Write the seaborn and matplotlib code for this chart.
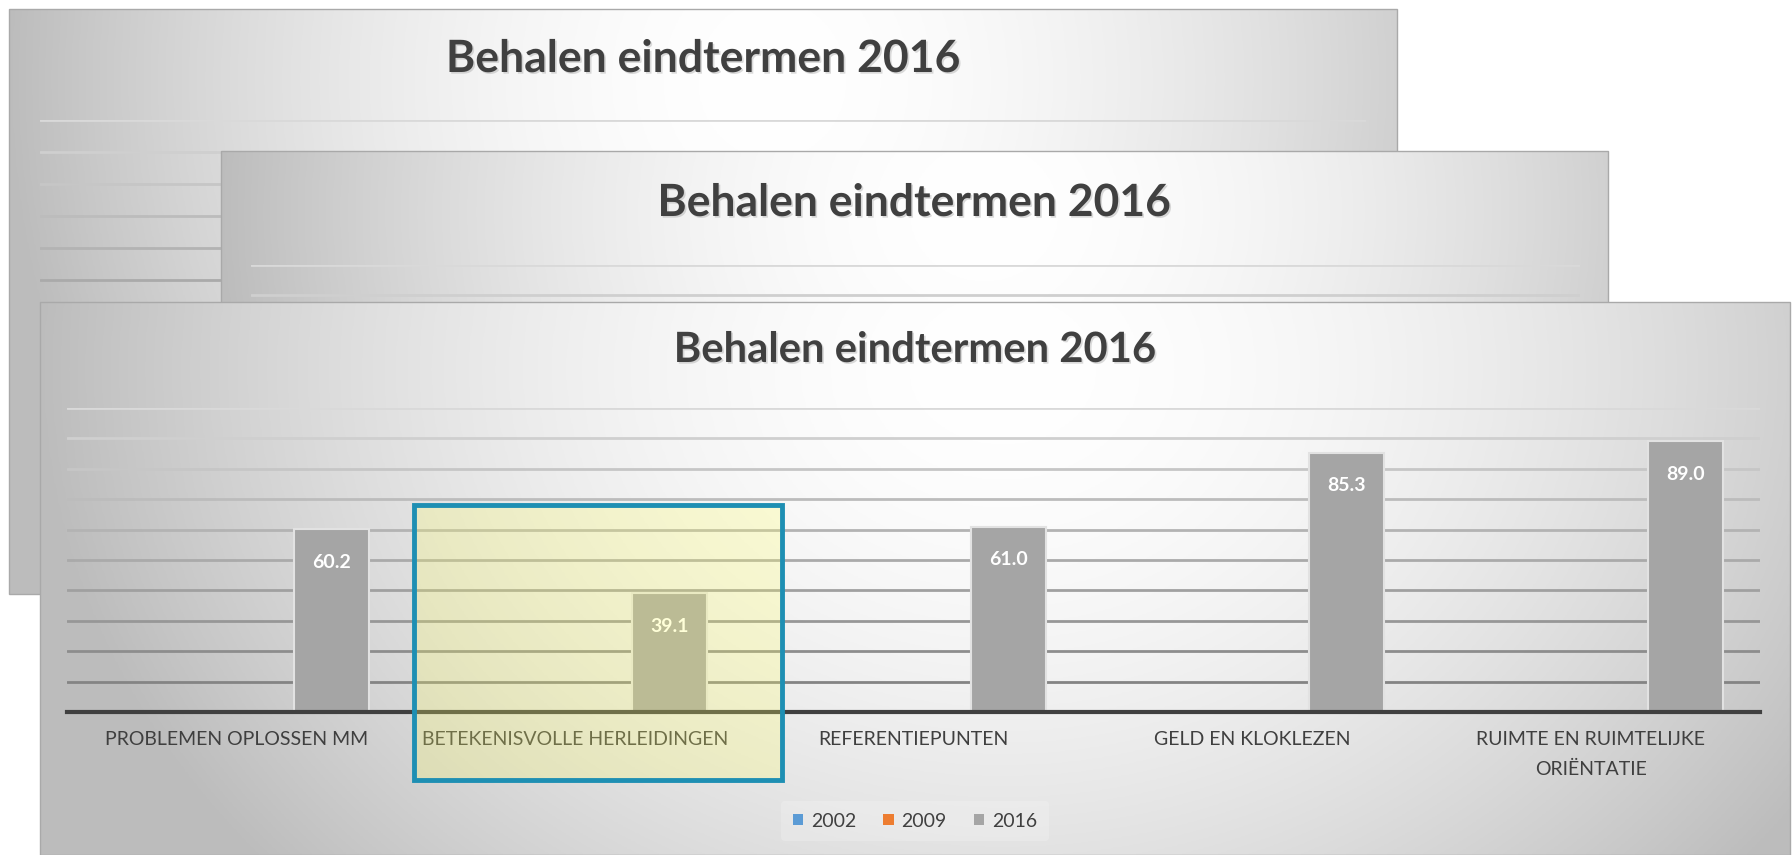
import numpy as np
import pandas as pd
import matplotlib
matplotlib.use("Agg")
import matplotlib.pyplot as plt
import matplotlib.patheffects as pe
from matplotlib.patches import Rectangle, Patch
import seaborn as sns

# === gegevens ===
CATEGORIEEN = ["PROBLEMEN OPLOSSEN MM", "BETEKENISVOLLE HERLEIDINGEN", "REFERENTIEPUNTEN",
               "GELD EN KLOKLEZEN", "RUIMTE EN RUIMTELIJKE\nORIËNTATIE"]
JAREN = ["2002", "2009", "2016"]
WAARDEN_2002 = [np.nan, np.nan, np.nan, np.nan, np.nan]
WAARDEN_2009 = [np.nan, np.nan, np.nan, np.nan, np.nan]
WAARDEN_2016 = [60.2, 39.1, 61.0, 85.3, 89.0]
KLEUREN = ["#5B9BD5", "#ED7D31", "#A5A5A5"]
TITEL = "Behalen eindtermen 2016"
Y_TICKS = [0, 10, 20, 30, 40, 50, 60, 70, 80, 90, 100]

df = pd.DataFrame({
    "categorie": CATEGORIEEN * 3,
    "jaar": [j for j in JAREN for _ in CATEGORIEEN],
    "waarde": WAARDEN_2002 + WAARDEN_2009 + WAARDEN_2016,
})

sns.set_theme(style="white")
plt.rcParams["font.family"] = ["Lato", "DejaVu Sans"]

W, H = 1792, 855
fig = plt.figure(figsize=(W / 100, H / 100), dpi=100)
fig.patch.set_facecolor("white")


def box(x0, y0, x1, y1):
    # pixel box (top-left origin) -> figure fraction rect
    return [x0 / W, 1 - y1 / H, (x1 - x0) / W, (y1 - y0) / H]


def gradient(nx=400, ny=200, cx=0.55, cy=0.12):
    u = np.linspace(0, 1, nx)[None, :]
    v = np.linspace(0, 1, ny)[:, None]
    t = np.sqrt(((u - cx) / 0.55) ** 2 + ((v - cy) / 1.4) ** 2)
    val = 1 - 0.26 * np.clip(t, 0, 1) ** 1.8
    return np.dstack([val, val, val])


def draw_grid(ax):
    ax.set_facecolor("none")
    ax.set_ylim(0, 100)
    ax.set_yticks(Y_TICKS)
    ax.yaxis.grid(True, linewidth=2)
    ax.xaxis.grid(False)
    ax.set_axisbelow(True)
    ax.tick_params(left=False, labelleft=False, bottom=False, labelbottom=False)
    for sp in ax.spines.values():
        sp.set_visible(False)
    for val, gl in zip(Y_TICKS, ax.get_ygridlines()):
        gl.set_color(str(round(0.85 - 0.37 * (1 - val / 100), 3)))


# paneel: achtergrond, plotgebied, titel-y, titelbreedte (pixels)
PANELEN = [
    dict(bg=(9, 9, 1397, 594), plot=(40, 120, 1366, 440), ty=59, tw=514),
    dict(bg=(221, 151, 1608, 660), plot=(251, 265, 1580, 565), ty=203, tw=513),
    dict(bg=(40, 302, 1790, 855), plot=(67, 408, 1760, 712), ty=350, tw=482),
]

renderer = fig.canvas.get_renderer()
axes = []
for i, p in enumerate(PANELEN):
    bg = fig.add_axes(box(*p["bg"]), zorder=2 * i + 1)
    bg.imshow(gradient(), extent=[0, 1, 0, 1], aspect="auto", origin="upper")
    bg.set_xlim(0, 1)
    bg.set_ylim(0, 1)
    bg.axis("off")
    bg.add_patch(Rectangle((0, 0), 1, 1, transform=bg.transAxes, fill=False,
                           ec="#a9a9a9", lw=1, clip_on=False))
    x0, y0, x1, y1 = p["bg"]
    ty = 1 - (p["ty"] - y0) / (y1 - y0)
    t = bg.text(0.5, ty, TITEL, transform=bg.transAxes, ha="center", va="center",
                fontsize=22, fontweight="bold", color="#404040",
                path_effects=[pe.withSimplePatchShadow(offset=(1.2, -1.2),
                                                        shadow_rgbFace="#888888", alpha=0.3)])
    w = t.get_window_extent(renderer).width
    t.set_fontsize(22 * p["tw"] / w)

    ax = fig.add_axes(box(*p["plot"]), zorder=2 * i + 2)
    draw_grid(ax)
    axes.append(ax)

ax = axes[-1]
sns.barplot(data=df.dropna(), x="categorie", y="waarde", hue="jaar",
            order=CATEGORIEEN, hue_order=JAREN, palette=KLEUREN, saturation=1,
            dodge=True, width=0.84, gap=0.21, errorbar=None, legend=False,
            edgecolor="#e2e2e2", linewidth=1.5, ax=ax)
draw_grid(ax)
ax.set_xlim(-0.5, len(CATEGORIEEN) - 0.5)
ax.set_xlabel("")
ax.set_ylabel("")
ax.spines["bottom"].set_visible(True)
ax.spines["bottom"].set_color("#404040")
ax.spines["bottom"].set_linewidth(3)
ax.tick_params(axis="x", bottom=False, labelbottom=True, length=0, pad=14, labelsize=14)
for lab in ax.get_xticklabels():
    lab.set_color("#3f3f3f")
    lab.set_linespacing(1.85)

for cont in ax.containers:
    ax.bar_label(cont, fmt="%.1f", padding=-30, color="white",
                 fontsize=14, fontweight="bold")

handles = [Patch(facecolor=c, edgecolor="none", label=j) for j, c in zip(JAREN, KLEUREN)]
leg = ax.legend(handles=handles, loc="center", bbox_to_anchor=(915 / W, 1 - 821 / H),
                bbox_transform=fig.transFigure, ncol=3, frameon=True, fontsize=14,
                handlelength=0.52, handleheight=0.52, handletextpad=0.4,
                columnspacing=1.4, borderpad=0.6, labelcolor="#404040")
leg.get_frame().set_facecolor("white")
leg.get_frame().set_alpha(0.2)
leg.get_frame().set_edgecolor("none")

# geselecteerde categorie (markering)
fig.add_artist(Rectangle((414 / W, 1 - 780 / H), 368 / W, 275 / H, transform=fig.transFigure,
                         facecolor=(1, 1, 0.4, 0.25), edgecolor="#1E8FB3", lw=3.5, zorder=20))

fig.savefig("out.png", dpi=100, facecolor="white")
